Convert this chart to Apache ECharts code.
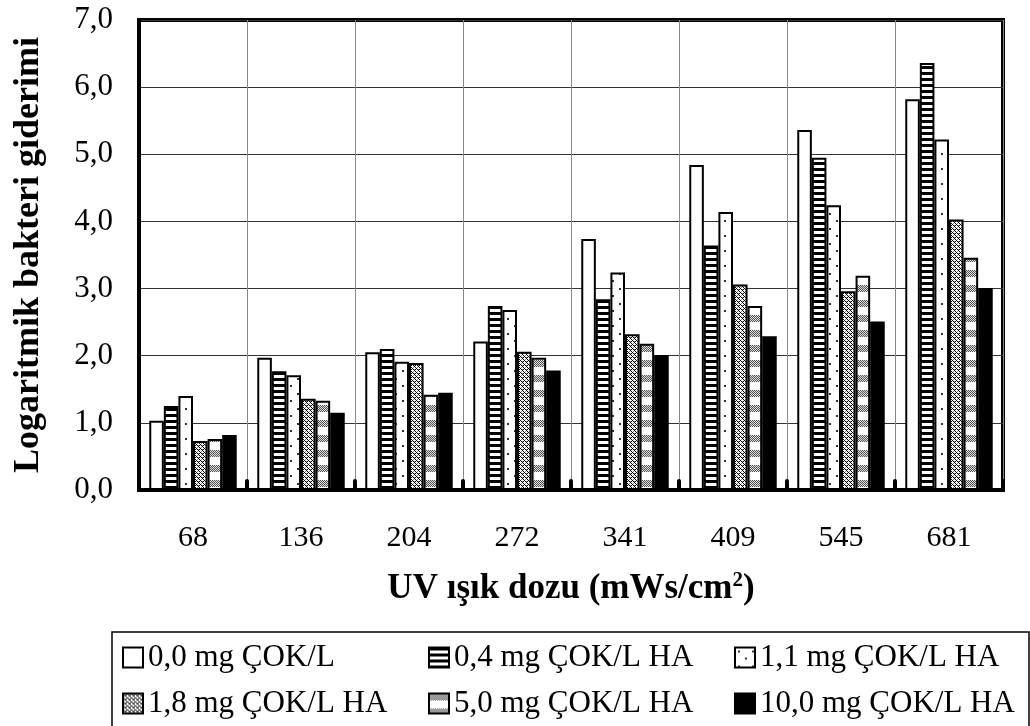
<!DOCTYPE html>
<html>
<head>
<meta charset="utf-8">
<script src="https://cdn.jsdelivr.net/npm/echarts@6/dist/echarts.min.js"></script>
<style>
html,body{margin:0;padding:0;background:#fff;}
#chart{width:1030px;height:726px;}
</style>
</head>
<body>
<div id="chart"></div>
<script>
const categories = ['68', '136', '204', '272', '341', '409', '545', '681'];
const seriesNames = ['0,0 mg ÇOK/L', '0,4 mg ÇOK/L HA', '1,1 mg ÇOK/L HA', '1,8 mg ÇOK/L HA', '5,0 mg ÇOK/L HA', '10,0 mg ÇOK/L HA'];
const s00 = [1.03, 1.97, 2.05, 2.21, 3.74, 4.84, 5.36, 5.82];
const s04 = [1.25, 1.77, 2.10, 2.74, 2.84, 3.64, 4.95, 6.36];
const s11 = [1.40, 1.71, 1.91, 2.68, 3.24, 4.14, 4.24, 5.22];
const s18 = [0.73, 1.36, 1.89, 2.06, 2.32, 3.06, 2.96, 4.03];
const s50 = [0.76, 1.33, 1.42, 1.97, 2.18, 2.74, 3.19, 3.46];
const s100 = [0.82, 1.15, 1.45, 1.78, 2.01, 2.29, 2.51, 3.01];
const yTicks = [0, 1, 2, 3, 4, 5, 6, 7];

function makeCanvas(w, h, draw) {
  const c = document.createElement('canvas');
  c.width = w; c.height = h;
  const ctx = c.getContext('2d');
  draw(ctx, w, h);
  return c;
}
function pat(canvas) { return { image: canvas, repeat: 'repeat' }; }

const pStripes = makeCanvas(6, 6, (ctx) => {
  ctx.fillStyle = '#000'; ctx.fillRect(0, 0, 6, 6);
  ctx.fillStyle = '#fff'; ctx.fillRect(0, 3, 6, 3);
});
const pDots = makeCanvas(14, 15, (ctx) => {
  ctx.fillStyle = '#fff'; ctx.fillRect(0, 0, 14, 15);
  ctx.fillStyle = '#333';
  ctx.fillRect(3, 3, 2, 2);
  ctx.fillRect(10, 10, 2, 2);
});
const pCross = makeCanvas(4, 4, (ctx) => {
  ctx.fillStyle = '#fff'; ctx.fillRect(0, 0, 4, 4);
  ctx.fillStyle = '#000';
  for (let x = 0; x < 4; x++) for (let y = 0; y < 4; y++) {
    if ((x + y) % 4 === 0 || (x - y + 4) % 4 === 0) ctx.fillRect(x, y, 1, 1);
  }
  ctx.fillStyle = '#888';
  ctx.fillRect(2, 1, 1, 1); ctx.fillRect(1, 3, 1, 1);
});
const pChecker = makeCanvas(4, 15, (ctx) => {
  ctx.fillStyle = '#fff'; ctx.fillRect(0, 0, 4, 15);
  for (let x = 0; x < 4; x++) for (let y = 0; y < 7; y++) {
    ctx.fillStyle = ((x + y) % 2 === 0) ? '#555' : '#ddd';
    ctx.fillRect(x, y, 1, 1);
  }
});

const fills = ['#ffffff', pat(pStripes), pat(pDots), pat(pCross), pat(pChecker), '#000000'];
const dataSets = [s00, s04, s11, s18, s50, s100];

const FONT = 'Liberation Serif';
const chart = echarts.init(document.getElementById('chart'), null, { renderer: 'canvas' });

chart.setOption({
  backgroundColor: '#fff',
  animation: false,
  grid: {
    left: 139, right: 27, top: 20, bottom: 236,
    show: true, borderColor: '#000', borderWidth: 4, backgroundColor: 'transparent'
  },
  legend: {
    left: 112, top: 632,
    width: 910,
    padding: [10, 4, 40, 10],
    borderColor: '#000', borderWidth: 1.5,
    itemWidth: 20, itemHeight: 20,
    itemGap: 15,
    icon: 'rect',
    data: seriesNames,
    textStyle: { fontFamily: FONT, fontSize: 31, color: '#000', width: 265, overflow: 'truncate', ellipsis: '', lineHeight: 28, padding: [0,0,0,0] }
  },
  xAxis: {
    type: 'category',
    data: categories,
    boundaryGap: true,
    name: 'UV ışık dozu (mWs/cm{sup|2})',
    nameLocation: 'middle',
    nameGap: 80,
    nameTextStyle: {
      fontFamily: FONT, fontSize: 35, fontWeight: 'bold', color: '#000', lineHeight: 38,
      rich: { sup: { fontFamily: FONT, fontSize: 21, fontWeight: 'bold', color: '#000', verticalAlign: 'top', lineHeight: 21, padding: [0, 0, 12, 0] } }
    },
    axisLine: { show: true, lineStyle: { color: '#000', width: 4 } },
    axisTick: { show: true, inside: true, length: 9, lineStyle: { color: '#000', width: 4, cap: 'round' } },
    axisLabel: { fontFamily: FONT, fontSize: 30, color: '#000', margin: 33 },
    splitLine: { show: true, lineStyle: { color: '#888', width: 1 } }
  },
  yAxis: {
    type: 'value',
    min: yTicks[0], max: yTicks[yTicks.length - 1], interval: 1,
    name: 'Logaritmik bakteri giderimi',
    nameLocation: 'middle',
    nameGap: 92,
    nameTextStyle: { fontFamily: FONT, fontSize: 36, fontWeight: 'bold', color: '#000', lineHeight: 36 },
    axisLine: { show: true, lineStyle: { color: '#000', width: 4 } },
    axisTick: { show: false },
    axisLabel: { fontFamily: FONT, fontSize: 31, color: '#000', margin: 26, formatter: v => v.toFixed(1).replace('.', ',') },
    splitLine: { show: true, lineStyle: { color: '#333', width: 1 } }
  },
  series: seriesNames.map((n, i) => ({
    name: n,
    type: 'bar',
    data: dataSets[i],
    barGap: '0%',
    barCategoryGap: '19%',
    itemStyle: { color: fills[i], borderColor: '#000', borderWidth: 2 }
  }))
});
</script>
</body>
</html>
